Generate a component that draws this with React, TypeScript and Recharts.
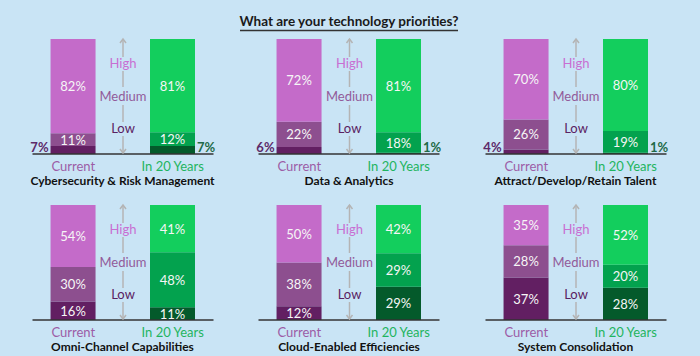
import React from 'react';
import { BarChart, Bar, XAxis, YAxis, Cell, LabelList } from 'recharts';

const mainTitle = 'What are your technology priorities?';
const panelTitles = [
  'Cybersecurity & Risk Management',
  'Data & Analytics',
  'Attract/Develop/Retain Talent',
  'Omni-Channel Capabilities',
  'Cloud-Enabled Efficiencies',
  'System Consolidation',
];
const periods = ['Current', 'In 20 Years'];
const levelLabels = ['High', 'Medium', 'Low'];

const currentLow = [7, 6, 4, 16, 12, 37];
const currentMedium = [11, 22, 26, 30, 38, 28];
const currentHigh = [82, 72, 70, 54, 50, 35];
const futureLow = [7, 1, 1, 11, 29, 28];
const futureMedium = [12, 18, 19, 48, 29, 20];
const futureHigh = [81, 81, 80, 41, 42, 52];

const FONT = 'Lato, "Open Sans", sans-serif';
const BG = '#c9e4f5';
const colors = {
  low: ['#621f62', '#045a2b'],
  medium: ['#8d4f8f', '#03a24e'],
  high: ['#c46bc9', '#13ce5d'],
};
const tickColors = ['#9c5ca6', '#1fb460'];
const outsideColors = ['#5d2a6a', '#1e6a47'];
const levelColors = ['#c86fd2', '#925b9a', '#5a2262'];

const PLOT_H = 115;
const HALF_W = 90.5;
const CHART_W = 230;
const MARGIN_TOP = 10;
const AXIS_H = 36;

const panelCenters = [122.5, 349, 575.5];
const rowTops = [39, 205];

function makeData(i: number) {
  return [
    { period: periods[0], idx: 0, low: currentLow[i], medium: currentMedium[i], high: currentHigh[i] },
    { period: periods[1], idx: 1, low: futureLow[i], medium: futureMedium[i], high: futureHigh[i] },
  ];
}

const InsideLabel = (props: any) => {
  const { x, y, width, height, value } = props;
  if (value < 10) return null;
  return (
    <text
      x={x + width / 2}
      y={y + height / 2}
      textAnchor="middle"
      dominantBaseline="central"
      fill="#f6f6f6"
      fontFamily={FONT}
      fontSize={13}
    >
      {value}%
    </text>
  );
};

const LowLabel = (props: any) => {
  const { x, y, width, height, value, index } = props;
  if (value >= 10) return <InsideLabel {...props} />;
  const isLeft = index === 0;
  return (
    <text
      x={isLeft ? x - 2 : x + width + 2}
      y={y + height - 2}
      textAnchor={isLeft ? 'end' : 'start'}
      fill={outsideColors[isLeft ? 0 : 1]}
      fontFamily={FONT}
      fontSize={13}
      fontWeight={700}
    >
      {value}%
    </text>
  );
};

const PeriodTick = (props: any) => {
  const { x, y, payload } = props;
  const idx = Math.round(payload.value);
  return (
    <text x={x} y={y + 17} textAnchor="middle" fill={tickColors[idx]} fontFamily={FONT} fontSize={13}>
      {periods[idx]}
    </text>
  );
};

function Panel({ i }: { i: number }) {
  const cx = panelCenters[i % 3];
  const top = rowTops[Math.floor(i / 3)];
  const data = makeData(i);
  const side = CHART_W / 2 - HALF_W;
  return (
    <div style={{ position: 'absolute', left: cx - CHART_W / 2, top: top - MARGIN_TOP }}>
      <BarChart
        width={CHART_W}
        height={MARGIN_TOP + PLOT_H + AXIS_H}
        data={data}
        margin={{ top: MARGIN_TOP, right: side, bottom: 0, left: side }}
      >
        <XAxis
          type="number"
          dataKey="idx"
          domain={[-0.41, 1.41]}
          ticks={[0, 1]}
          height={AXIS_H}
          tickLine={false}
          tickSize={0}
          tickMargin={0}
          axisLine={{ stroke: '#333333', strokeWidth: 1.5 }}
          tick={<PeriodTick />}
          allowDataOverflow
        />
        <YAxis hide domain={[0, 100]} />
        <Bar dataKey="low" stackId="a" barSize={45} isAnimationActive={false}>
          {data.map((_, k) => (
            <Cell key={k} fill={colors.low[k]} />
          ))}
          <LabelList dataKey="low" content={<LowLabel />} />
        </Bar>
        <Bar dataKey="medium" stackId="a" barSize={45} isAnimationActive={false}>
          {data.map((_, k) => (
            <Cell key={k} fill={colors.medium[k]} />
          ))}
          <LabelList dataKey="medium" content={<InsideLabel />} />
        </Bar>
        <Bar dataKey="high" stackId="a" barSize={45} isAnimationActive={false}>
          {data.map((_, k) => (
            <Cell key={k} fill={colors.high[k]} />
          ))}
          <LabelList dataKey="high" content={<InsideLabel />} />
        </Bar>
      </BarChart>
    </div>
  );
}

function Decorations() {
  const items: React.ReactNode[] = [];
  panelTitles.forEach((title, i) => {
    const cx = panelCenters[i % 3];
    const T = rowTops[Math.floor(i / 3)];
    const ax = cx + 0.5;
    const segs = [
      [T, T + 18],
      [T + 32, T + 48],
      [T + 66, T + 83],
      [T + 97, T + PLOT_H - 1],
    ];
    segs.forEach((s, k) => {
      items.push(
        <line key={`s${i}-${k}`} x1={ax} x2={ax} y1={s[0]} y2={s[1]} stroke="#b4b4b4" strokeWidth={1.5} />
      );
    });
    items.push(
      <polyline key={`ut${i}`} points={`${ax - 3},${T + 4} ${ax},${T} ${ax + 3},${T + 4}`} fill="none" stroke="#b4b4b4" strokeWidth={1.5} />
    );
    items.push(
      <polyline key={`db${i}`} points={`${ax - 3},${T + PLOT_H - 5} ${ax},${T + PLOT_H - 1} ${ax + 3},${T + PLOT_H - 5}`} fill="none" stroke="#b4b4b4" strokeWidth={1.5} />
    );
    const ys = [T + 24, T + 57, T + 89];
    levelLabels.forEach((lab, k) => {
      items.push(
        <text key={`l${i}-${k}`} x={ax} y={ys[k]} textAnchor="middle" dominantBaseline="central" fill={levelColors[k]} fontFamily={FONT} fontSize={13}>
          {lab}
        </text>
      );
    });
    items.push(
      <text key={`t${i}`} x={cx} y={T + PLOT_H + 26} textAnchor="middle" dominantBaseline="central" fill="#111111" fontFamily={FONT} fontSize={12} fontWeight={700}>
        {title}
      </text>
    );
  });
  return (
    <svg width={700} height={356} style={{ position: 'absolute', left: 0, top: 0, pointerEvents: 'none' }}>
      <text x={349} y={21} textAnchor="middle" dominantBaseline="central" fill="#1a1a1a" fontFamily={FONT} fontSize={13.5} fontWeight={700}>
        {mainTitle}
      </text>
      <line x1={240} x2={458} y1={30.5} y2={30.5} stroke="#333333" strokeWidth={1.5} />
      {items}
    </svg>
  );
}

export default function App() {
  return (
    <div style={{ position: 'absolute', left: 0, top: 0, width: 700, height: 356, background: BG, overflow: 'hidden', fontFamily: FONT }}>
      {[0, 1, 2, 3, 4, 5].map((i) => (
        <Panel key={i} i={i} />
      ))}
      <Decorations />
    </div>
  );
}
